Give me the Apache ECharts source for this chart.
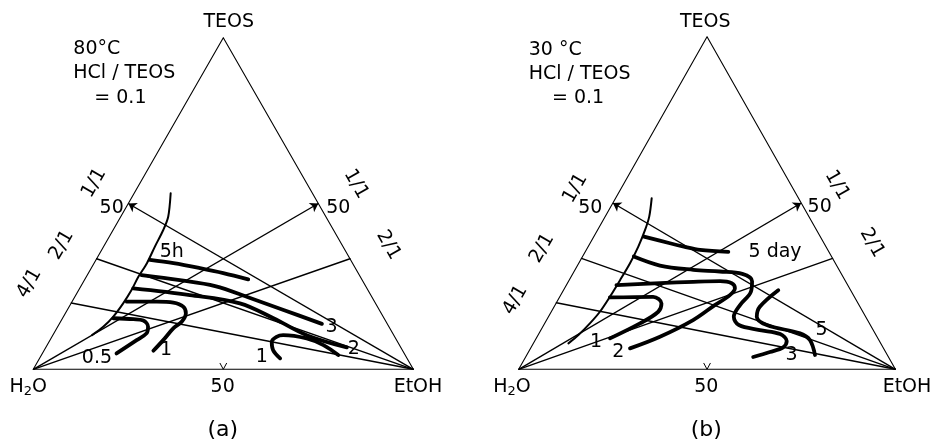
<!DOCTYPE html>
<html><head><meta charset="utf-8">
<script src="https://cdn.jsdelivr.net/npm/echarts@6/dist/echarts.min.js"></script>
<style>html,body{margin:0;padding:0;background:#fff}#c{width:935px;height:448px}</style>
</head><body><div id="c"></div>
<script>
// ---- DATA: compositions given as [EtOH mol%, TEOS mol%]; H2O = 100 - EtOH - TEOS ----
// ratio lines: left side H2O/TEOS, right side EtOH/TEOS
const leftRatios = [1, 2, 4];
const leftRatioLabels = ['1/1', '2/1', '4/1'];
const rightRatios = [1, 2];
const rightRatioLabels = ['1/1', '2/1'];
const edgeTickValue = 50;

// (a) 80 °C
const boundaryA = [[9.6,53.1],[12.5,46.0],[13.2,42.0],[13.5,37.0],[13.9,32.0],[13.7,27.9],[13.9,23.9],[13.7,19.9],[13.1,15.9],[12.0,12.8],[10.3,10.3]];
const a_5h = [[14.2,33.0],[20.9,32.0],[28.6,30.5],[35.5,29.0],[43.0,27.1]];
const a_3h = [[14.3,28.4],[25.1,26.9],[35.3,25.1],[46.3,21.5],[56.9,17.9],[69.1,13.7]];
const a_2h = [[14.1,24.4],[30.0,22.4],[44.4,19.9],[55.5,15.4],[66.8,10.3],[79.2,6.6]];
const a_1h_left = [[14.4,20.4],[22.3,20.4],[26.8,20.1],[30.0,18.9],[31.7,16.9],[31.9,14.4],[30.7,12.4],[29.8,8.8],[28.8,5.6]];
const a_1h_right = [[63.3,3.3],[60.2,5.8],[58.6,8.3],[59.1,9.8],[60.6,10.3],[67.3,9.3],[72.7,7.3],[78.1,4.3]];
const a_05h = [[13.4,15.4],[18.8,15.1],[21.6,14.7],[23.8,12.8],[24.4,10.9],[22.8,8.8],[19.5,4.8]];
const labelsA = [['5h',18.7,35.5],['3',72.1,12.8],['2',81.3,6.1],['1',32.0,5.8],['0.5',15.1,3.3],['1',58.2,3.8]];

// (b) 30 °C
const boundaryB = [[9.6,51.4],[11.7,45.9],[12.6,41.9],[13.3,36.9],[13.6,31.9],[13.5,26.8],[13.3,21.8],[12.9,17.3],[12.0,13.8],[10.7,10.3],[9.3,7.8]];
const b_5d = [[13.3,39.9],[21.2,37.9],[25.4,36.9],[30.2,35.9],[38.0,35.3]];
const b_3d = [[13.6,33.9],[21.9,31.2],[31.4,29.9],[38.7,29.4],[45.0,28.7],[48.7,26.5],[50.0,23.2],[49.1,19.3],[49.2,15.8],[51.8,13.3],[58.1,11.8],[64.1,10.6],[66.9,8.5],[66.9,6.6],[64.1,5.2],[60.4,3.7]];
const b_2d = [[13.3,25.3],[24.6,25.9],[33.2,26.3],[40.2,26.5],[43.6,25.9],[45.2,24.4],[44.9,22.3],[42.4,19.3],[38.9,14.8],[32.6,9.8],[26.4,6.3]];
const b_1d = [[13.4,21.6],[24.8,21.8],[28.0,19.8],[28.4,17.3],[25.3,13.8],[19.6,9.3]];
const b_5d_right = [[57.0,23.8],[54.6,18.8],[55.3,15.8],[59.2,13.3],[69.3,10.8],[72.9,8.8],[76.5,4.3]];
const labelsB = [['5 day',50.4,35.3],['5',74.5,11.8],['3',70.3,4.3],['2',23.8,5.3],['1',16.4,8.3]];

// ---- LAYOUT ----
const FONT = 'DejaVu Sans';
const FS = 19;
const panels = [
  {left:33.3, top:37.7, width:380, height:331.6, temp:'80°C', sub:'(a)'},
  {left:518.7, top:36.7, width:376.7, height:332.6, temp:'30 °C', sub:'(b)'}
];

function toXY(p){ return [p[0] + p[1]/2, p[1]]; }

const chart = echarts.init(document.getElementById('c'), null, {renderer:'canvas'});
const grids = [], xAxes = [], yAxes = [], series = [];
panels.forEach((p,i)=>{
  grids.push({left:p.left, top:p.top, width:p.width, height:p.height, containLabel:false});
  xAxes.push({gridIndex:i, type:'value', min:0, max:100, show:false});
  yAxes.push({gridIndex:i, type:'value', min:0, max:100, show:false});
});

function lineSeries(i, pts, w, smooth){
  return {type:'line', xAxisIndex:i, yAxisIndex:i, data:pts.map(toXY), showSymbol:false, symbol:'none',
    smooth: smooth||false, clip:false, silent:true, animation:false,
    lineStyle:{color:'#000', width:w, cap:'round', join:'round'}};
}
function arrowSeries(i, from, to){
  return {type:'lines', coordinateSystem:'cartesian2d', xAxisIndex:i, yAxisIndex:i, silent:true, animation:false,
    symbol:['none','arrow'], symbolSize:8, lineStyle:{color:'#000', width:1.4, opacity:1},
    data:[{coords:[toXY(from), toXY(to)]}]};
}
function frame(i){
  series.push(lineSeries(i, [[0,0],[100,0],[0,100],[0,0]], 1.1));
  leftRatios.forEach(r=>{
    const T = 100/(1+r);
    if (r===1) series.push(arrowSeries(i, [100,0], [0,T]));
    else series.push(lineSeries(i, [[0,T],[100,0]], 1.4));
  });
  rightRatios.forEach(r=>{
    const T = 100/(1+r);
    if (r===1) series.push(arrowSeries(i, [0,0], [100-T,T]));
    else series.push(lineSeries(i, [[0,0],[100-T,T]], 1.4));
  });
  const b = toXY([edgeTickValue,0]);
  series.push({type:'line', xAxisIndex:i, yAxisIndex:i, data:[[b[0]-0.9,1.9],b,[b[0]+0.9,1.9]], showSymbol:false, symbol:'none',
    silent:true, animation:false, lineStyle:{color:'#000', width:1}});
}
function labels(i, arr){
  series.push({type:'scatter', xAxisIndex:i, yAxisIndex:i, symbolSize:1, silent:true, animation:false, clip:false,
    itemStyle:{color:'rgba(0,0,0,0)', opacity:1},
    data: arr.map(a=>({value:toXY([a[1],a[2]]), name:a[0]})),
    label:{show:true, position:'inside', formatter:'{b}', color:'#000', opacity:1, textBorderWidth:0, fontFamily:FONT, fontSize:FS}});
}

frame(0); frame(1);
series.push(lineSeries(0, boundaryA, 2, 0.3));
[a_5h, a_3h, a_2h, a_1h_left, a_1h_right, a_05h].forEach(c=>series.push(lineSeries(0, c, 3.8, 0.35)));
labels(0, labelsA);
series.push(lineSeries(1, boundaryB, 2, 0.3));
[b_5d, b_3d, b_2d, b_1d, b_5d_right].forEach(c=>series.push(lineSeries(1, c, 3.8, 0.35)));
labels(1, labelsB);

// ---- text graphics ----
const g = [];
function txt(x,y,text,opt){
  opt = opt||{};
  g.push({type:'text', x:x, y:y, rotation:opt.rot||0, silent:true,
    style:{text:text, fill:'#000', font: (opt.fs||FS)+'px "'+FONT+'"', align:opt.align||'center', verticalAlign:'middle', rich:opt.rich}});
}
const rich = {a:{fontSize:FS, fontFamily:FONT, fill:'#000'}, s:{fontSize:13, fontFamily:FONT, fill:'#000', padding:[9,0,0,0]}};
const P = [
  {teos:[228.7,21.7], h2o:[28.3,387.3], etoh:[418,387.3], b50:[222.7,386.7], l50:[111.7,208.3], r50:[338.3,208.3],
   lr:[[94,183],[61.7,245],[29.3,283.3]], rr:[[356,184],[388.3,245]], cond:[[73.3,49],[73.3,73.3],[94.3,98.3]], sub:[222.7,430]},
  {teos:[705.3,21.7], h2o:[512,386.7], etoh:[907,386.7], b50:[706.3,386.7], l50:[590.3,208.3], r50:[819.7,207.3],
   lr:[[575.3,188.3],[542,248.3],[515.3,300]], rr:[[837,185],[872,242.7]], cond:[[528.7,50],[528.7,74],[552,98]], sub:[706.3,430]}
];
P.forEach((q,i)=>{
  txt(q.teos[0], q.teos[1], 'TEOS');
  txt(q.h2o[0], q.h2o[1], '{a|H}{s|2}{a|O}', {rich:rich});
  txt(q.etoh[0], q.etoh[1], 'EtOH');
  txt(q.b50[0], q.b50[1], String(edgeTickValue));
  txt(q.l50[0], q.l50[1], String(edgeTickValue));
  txt(q.r50[0], q.r50[1], String(edgeTickValue));
  leftRatioLabels.forEach((t,k)=>txt(q.lr[k][0], q.lr[k][1], t, {rot:Math.PI/3}));
  rightRatioLabels.forEach((t,k)=>txt(q.rr[k][0], q.rr[k][1], t, {rot:-Math.PI/3}));
  txt(q.cond[0][0], q.cond[0][1], panels[i].temp, {align:'left'});
  txt(q.cond[1][0], q.cond[1][1], 'HCl / TEOS', {align:'left'});
  txt(q.cond[2][0], q.cond[2][1], '= 0.1', {align:'left'});
  txt(q.sub[0], q.sub[1], panels[i].sub, {fs:22});
});

chart.setOption({animation:false, backgroundColor:'#fff', grid:grids, xAxis:xAxes, yAxis:yAxes, series:series, graphic:g});
</script>
</body></html>
